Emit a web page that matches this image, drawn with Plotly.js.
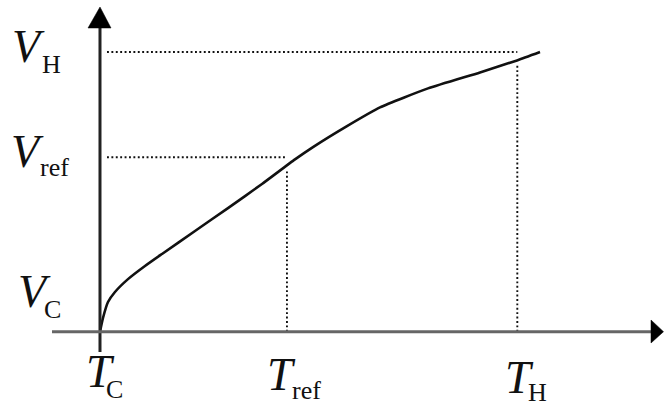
<!DOCTYPE html>
<html>
<head>
<meta charset="utf-8">
<script src="https://cdn.plot.ly/plotly-3.0.1.min.js"></script>
<style>html,body{margin:0;padding:0;background:#fff;}#chart{width:664px;height:405px;}</style>
</head>
<body>
<div id="chart"></div>
<script>
// Key levels (normalised units: T_C=0, T_H=1; V_C=0, V_H=1)
const T_C = 0, T_REF = 0.448, T_H = 1;
const V_C = 0, V_REF = 0.6235, V_H = 1;

// Characteristic curve V(T)
const curveT = [0, 0.0072, 0.0192, 0.0359, 0.0671, 0.1078, 0.1486, 0.2277, 0.3067, 0.3882, 0.4673, 0.5104, 0.5919, 0.6710, 0.7860, 0.9106, 0.9993, 1.0544];
const curveV = [0, 0.049, 0.106, 0.142, 0.188, 0.235, 0.278, 0.360, 0.442, 0.528, 0.616, 0.660, 0.735, 0.802, 0.870, 0.927, 0.970, 1.000];

// Axis labels
const mainLetters = ['V', 'V', 'V', 'T', 'T', 'T'];
const subLetters = ['H', 'ref', 'C', 'C', 'ref', 'H'];

const W = 664, H = 405;
const xRange = [-0.2396, 1.3515];
const yRange = [-0.2621, 1.1859];
function px2x(p){ return xRange[0] + p / W * (xRange[1] - xRange[0]); }
function py2y(p){ return yRange[1] - p / H * (yRange[1] - yRange[0]); }

const dotLine = {color: '#111', width: 1.9, dash: '1.9px,2.5px'};
const xStart = px2x(107);

const traces = [
  {x: [xStart, T_H], y: [V_H, V_H], mode: 'lines', line: dotLine, hoverinfo: 'skip'},
  {x: [xStart, T_REF], y: [V_REF, V_REF], mode: 'lines', line: dotLine, hoverinfo: 'skip'},
  {x: [T_REF, T_REF], y: [V_C, 0.575], mode: 'lines', line: dotLine, hoverinfo: 'skip'},
  {x: [T_H, T_H], y: [V_C, 0.955], mode: 'lines', line: dotLine, hoverinfo: 'skip'},
  {x: curveT, y: curveV, mode: 'lines', line: {color: '#111', width: 2.6, shape: 'spline', smoothing: 0.5}, hoverinfo: 'skip'}
];

// axes with arrow heads
const shapes = [
  {type: 'line', x0: T_C, x1: T_C, y0: py2y(352), y1: py2y(27), line: {color: '#222', width: 3}},
  {type: 'line', x0: px2x(52), x1: px2x(652), y0: V_C, y1: V_C, line: {color: '#666', width: 3}},
  {type: 'path', path: 'M ' + T_C + ' ' + py2y(7) + ' L ' + px2x(88) + ' ' + py2y(28) + ' L ' + px2x(111) + ' ' + py2y(28) + ' Z',
   fillcolor: '#000', line: {color: '#000', width: 0.5}},
  {type: 'path', path: 'M ' + px2x(663.5) + ' ' + V_C + ' L ' + px2x(651) + ' ' + py2y(320) + ' L ' + px2x(651) + ' ' + py2y(343) + ' Z',
   fillcolor: '#000', line: {color: '#000', width: 0.5}}
];

// label placements (pixel centres)
const mainPos = [[28.5, 46], [28, 151], [34, 291.5], [100, 371.5], [281, 374], [519, 377]];
const subPos = [[51, 64.5], [54, 168], [53, 309.5], [114, 389], [306.5, 390.5], [537.5, 392]];

const annotations = [];
mainLetters.forEach(function(t, i){
  annotations.push({text: '<i>' + t + '</i>', xref: 'paper', yref: 'paper', x: mainPos[i][0] / W, y: 1 - mainPos[i][1] / H,
    xanchor: 'center', yanchor: 'middle', showarrow: false, borderpad: 0,
    font: {family: 'Liberation Serif, DejaVu Serif, serif', size: 46, color: '#111'}});
});
subLetters.forEach(function(t, i){
  annotations.push({text: t, xref: 'paper', yref: 'paper', x: subPos[i][0] / W, y: 1 - subPos[i][1] / H,
    xanchor: 'center', yanchor: 'middle', showarrow: false, borderpad: 0,
    font: {family: 'Liberation Serif, DejaVu Serif, serif', size: 26, color: '#111'}});
});

const axisCommon = {showgrid: false, zeroline: false, showticklabels: false, showline: false, ticks: '', fixedrange: true};

const layout = {
  width: W, height: H,
  margin: {l: 0, r: 0, t: 0, b: 0, pad: 0},
  paper_bgcolor: '#fff', plot_bgcolor: '#fff',
  showlegend: false,
  xaxis: Object.assign({range: xRange}, axisCommon),
  yaxis: Object.assign({range: yRange}, axisCommon),
  shapes: shapes,
  annotations: annotations
};

Plotly.newPlot('chart', traces, layout, {staticPlot: true, displayModeBar: false});
</script>
</body>
</html>
